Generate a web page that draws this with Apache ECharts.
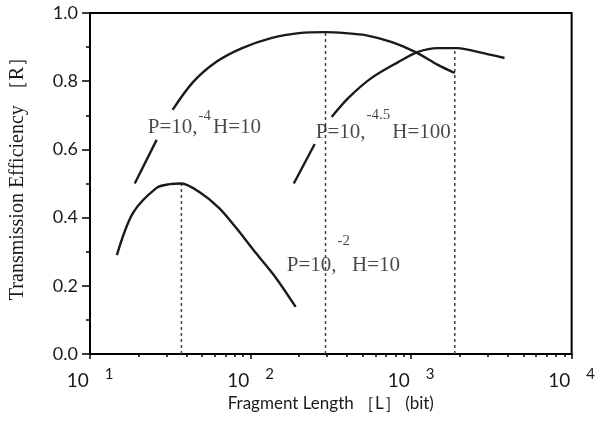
<!DOCTYPE html>
<html>
<head>
<meta charset="utf-8">
<script src="https://cdn.jsdelivr.net/npm/echarts@6/dist/echarts.min.js"></script>
<style>
  html, body { margin: 0; padding: 0; background: #fff; }
  #chart_container { width: 598px; height: 427px; }
</style>
</head>
<body>
<div id="chart_container"></div>
<script>
// fragment length (bit) vs transmission efficiency
const p2h10 = [[14.7, 0.29], [18.5, 0.413], [26, 0.487], [31.3, 0.498], [37.1, 0.50], [48, 0.475],
    [63.8, 0.428], [81.3, 0.37], [108, 0.296], [144, 0.223], [191, 0.138]];
const p4h10Lead = [[19, 0.50], [26, 0.628]];
const p4h10 = [[32.7, 0.716], [43.4, 0.795], [61, 0.856], [88.6, 0.897], [136, 0.927], [200, 0.941],
    [293, 0.944], [390, 0.941], [519, 0.935], [752, 0.915], [1059, 0.886], [1469, 0.848], [1872, 0.824]];
const p45h100Lead = [[186, 0.50], [251, 0.616]];
const p45h100 = [[320, 0.695], [407, 0.751], [565, 0.809], [831, 0.856], [1105, 0.886], [1469, 0.897],
    [1954, 0.897], [2600, 0.886], [3820, 0.868]];

// dotted drop lines at the optimum of each curve
const peakX = [37.1, 293, 1872];
const peakY = [0.50, 0.944, 0.897];

// curve annotations
const labelX = [22.9, 255, 168];
const labelY = [0.633, 0.619, 0.229];
const labelExp = ['-4', '-4.5', '-2'];
const labelTail = ['H=10', 'H=100', 'H=10'];
const supRise = [15, 20, 27];

// minor ticks between decades (2..9 x 10^n)
const minorX = [20, 30, 40, 50, 60, 70, 80, 90, 200, 300, 400, 500, 600, 700, 800, 900,
    2000, 3000, 4000, 5000, 6000, 7000, 8000, 9000];

const serif = '"Liberation Serif", "Times New Roman", serif';
const sans = 'Lato, "Open Sans", sans-serif';
const ink = '#1a1a1a';

let chart = echarts.init(document.getElementById('chart_container'), null, {renderer: 'canvas'});

function curve(data) {
    return {
        type: 'line',
        data: data,
        symbol: 'none',
        smooth: 0.3,
        silent: true,
        lineStyle: {color: ink, width: 2.4}
    };
}

let series = [
    curve(p2h10),
    curve(p4h10Lead),
    curve(p4h10),
    curve(p45h100Lead),
    curve(p45h100)
];

peakX.forEach((x, i) => {
    series.push({
        type: 'line',
        data: [[x, 0], [x, peakY[i]]],
        symbol: 'none',
        silent: true,
        z: 1,
        lineStyle: {color: '#444', width: 1.5, type: [3, 3]}
    });
});

let rich = {
    n: {fontFamily: serif, fontSize: 21, lineHeight: 22, color: ink, verticalAlign: 'bottom'}
};
supRise.forEach((p, i) => {
    rich['s' + i] = {fontFamily: serif, fontSize: 15, lineHeight: 16, color: ink,
        verticalAlign: 'bottom', padding: [0, 2, p, 1]};
});

series.push({
    type: 'scatter',
    symbolSize: 0,
    silent: true,
    data: labelX.map((x, i) => ({
        value: [x, labelY[i]],
        label: {
            show: true,
            position: [0, 0],
            align: 'left',
            verticalAlign: 'bottom',
            formatter: '{n|P=10,}{s' + i + '|' + labelExp[i] + '}{n|' + labelTail[i] + '}',
            rich: rich
        }
    }))
});

let chart_options = {
    animation: false,
    backgroundColor: '#fff',
    grid: {
        left: 90, right: 24, top: 13, bottom: 73,
        show: true,
        borderColor: '#000',
        borderWidth: 2
    },
    xAxis: [{
        type: 'log',
        logBase: 10,
        min: 10,
        max: 10000,
        name: 'Fragment Length ［L］ (bit)',
        nameLocation: 'middle',
        nameGap: 40,
        nameTextStyle: {fontFamily: sans, fontSize: 17, color: ink},
        axisLine: {lineStyle: {color: '#000', width: 2}},
        axisTick: {length: 5, lineStyle: {color: '#000', width: 1.5}},
        splitLine: {show: false},
        axisLabel: {
            margin: 16,
            color: ink,
            formatter: v => '{b|10}{s|' + Math.round(Math.log10(v)) + '}',
            rich: {
                b: {fontFamily: sans, fontSize: 19, lineHeight: 20, color: ink, verticalAlign: 'bottom'},
                s: {fontFamily: sans, fontSize: 15, lineHeight: 16, color: ink,
                    verticalAlign: 'bottom', padding: [0, 0, 8, 16]}
            }
        }
    }, {
        // exponent-space twin of the log axis, only for the minor ticks
        type: 'value',
        min: 1,
        max: 4,
        position: 'bottom',
        offset: 0,
        axisLine: {show: true, onZero: false, lineStyle: {color: 'rgba(0,0,0,0)'}},
        axisLabel: {show: false},
        splitLine: {show: false},
        axisTick: {
            show: true,
            customValues: minorX.map(v => Math.log10(v)),
            length: 3,
            lineStyle: {color: '#000', width: 1.5}
        }
    }],
    yAxis: {
        type: 'value',
        min: 0,
        max: 1,
        interval: 0.2,
        name: 'Transmission Efficiency ［R］',
        nameLocation: 'middle',
        nameGap: 62,
        nameTextStyle: {fontFamily: serif, fontSize: 20, color: ink, padding: [0, 0, 0, 20]},
        axisLine: {show: true, lineStyle: {color: '#000', width: 2}},
        axisTick: {length: 8, lineStyle: {color: '#000', width: 1.5}},
        minorTick: {show: true, splitNumber: 2, length: 4, lineStyle: {color: '#000', width: 1.5}},
        splitLine: {show: false},
        axisLabel: {
            margin: 12,
            fontFamily: sans,
            fontSize: 18,
            color: ink,
            formatter: v => v.toFixed(1)
        }
    },
    series: series
};

chart.setOption(chart_options);
</script>
</body>
</html>
